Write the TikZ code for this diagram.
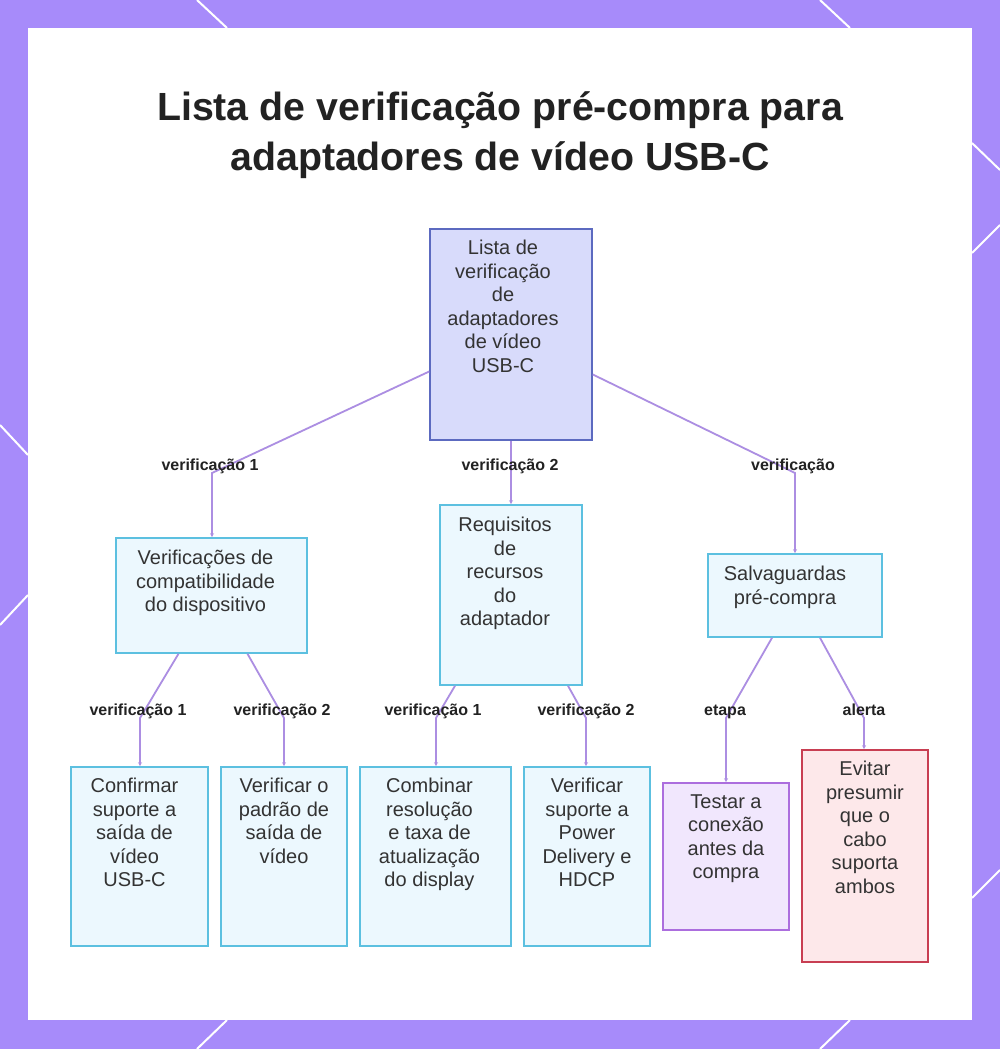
\documentclass[tikz,border=0pt]{standalone}
\usepackage{fontspec}
\setmainfont{Liberation Sans}
\usetikzlibrary{arrows.meta}
\definecolor{bgpurple}{RGB}{167,139,250}
\definecolor{rootfill}{RGB}{216,219,251}
\definecolor{rootdraw}{RGB}{92,106,192}
\definecolor{cyanfill}{RGB}{236,248,254}
\definecolor{cyandraw}{RGB}{92,192,224}
\definecolor{lavfill}{RGB}{241,231,253}
\definecolor{lavdraw}{RGB}{172,110,222}
\definecolor{redfill}{RGB}{253,232,234}
\definecolor{reddraw}{RGB}{200,62,82}
\definecolor{connc}{RGB}{172,142,226}
\definecolor{txt}{RGB}{51,51,51}
\definecolor{ttl}{RGB}{34,34,34}
\tikzset{
  boxbase/.style={rectangle, line width=1.6pt, inner sep=0pt},
  rootbox/.style={boxbase, draw=rootdraw, fill=rootfill},
  cbox/.style={boxbase, draw=cyandraw, fill=cyanfill},
  lbox/.style={boxbase, draw=lavdraw, fill=lavfill},
  rbox/.style={boxbase, draw=reddraw, fill=redfill},
  btext/.style={anchor=north, align=center, inner sep=0pt, text=txt,
    font=\fontsize{20}{23.5}\selectfont},
  lbl/.style={anchor=base, inner sep=0pt, text=ttl, font=\bfseries\fontsize{16}{18}\selectfont},
  conn/.style={draw=connc, line width=1.8pt, -{Stealth[length=4pt,width=4pt]}},
  ttlstyle/.style={anchor=base, inner sep=0pt, text=ttl, font=\bfseries\fontsize{39.3}{50}\selectfont},
  border/.style={draw=white, line width=2pt}
}
\begin{document}
\begin{tikzpicture}[x=1pt,y=-1pt]
\useasboundingbox (0,0) rectangle (1000,1049);
\fill[bgpurple] (0,0) rectangle (1000,1049);
% border diagonals
\draw[border] (197,0) -- (227,28);
\draw[border] (820,0) -- (850,28);
\draw[border] (0,425) -- (28,455);
\draw[border] (28,595) -- (0,625);
\draw[border] (972,143) -- (1000,170);
\draw[border] (972,253) -- (1000,225);
\draw[border] (972,898) -- (1000,870);
\draw[border] (227,1020) -- (197,1049);
\draw[border] (850,1020) -- (820,1049);
\fill[white] (28,28) rectangle (972,1020);

% title
\node[ttlstyle] (title1) at (500,120) {Lista de verificação pré-compra para};
\node[ttlstyle] (title2) at (500,170) {adaptadores de vídeo USB-C};

% boxes
\node[rootbox, minimum width=162, minimum height=211] (R) at (511,334.5) {};
\node[cbox, minimum width=191, minimum height=115] (A) at (211.5,595.5) {};
\node[cbox, minimum width=142, minimum height=180] (B) at (511,595) {};
\node[cbox, minimum width=174, minimum height=83] (C) at (795,595.5) {};
\node[cbox, minimum width=137, minimum height=179] (L1) at (139.5,856.5) {};
\node[cbox, minimum width=126, minimum height=179] (L2) at (284,856.5) {};
\node[cbox, minimum width=151, minimum height=179] (L3) at (435.5,856.5) {};
\node[cbox, minimum width=126, minimum height=179] (L4) at (587,856.5) {};
\node[lbox, minimum width=126, minimum height=147] (L5) at (726,856.5) {};
\node[rbox, minimum width=126, minimum height=212] (L6) at (865,856) {};

% texts
\node[btext] (Rt) at ([xshift=-8,yshift=-12]R.north) {Lista de\\verificação\\de\\adaptadores\\de vídeo\\USB-C};
\node[btext] (At) at ([xshift=-6,yshift=-13]A.north) {Verificações de\\compatibilidade\\do dispositivo};
\node[btext] (Bt) at ([xshift=-6,yshift=-13]B.north) {Requisitos\\de\\recursos\\do\\adaptador};
\node[btext] (Ct) at ([xshift=-10,yshift=-13]C.north) {Salvaguardas\\pré-compra};
\node[btext] (L1t) at ([xshift=-5,yshift=-12]L1.north) {Confirmar\\suporte a\\saída de\\vídeo\\USB-C};
\node[btext] (L2t) at ([yshift=-12]L2.north) {Verificar o\\padrão de\\saída de\\vídeo};
\node[btext] (L3t) at ([xshift=-6,yshift=-12]L3.north) {Combinar\\resolução\\e taxa de\\atualização\\do display};
\node[btext] (L4t) at ([yshift=-12]L4.north) {Verificar\\suporte a\\Power\\Delivery e\\HDCP};
\node[btext] (L5t) at ([yshift=-12]L5.north) {Testar a\\conexão\\antes da\\compra};
\node[btext] (L6t) at ([yshift=-12]L6.north) {Evitar\\presumir\\que o\\cabo\\suporta\\ambos};

% bend coordinates
\coordinate (bA) at (212,473);
\coordinate (bB) at (511,473);
\coordinate (bC) at (795,473);
\coordinate (b1) at (140,718);
\coordinate (b2) at (284,718);
\coordinate (b3) at (436,718);
\coordinate (b4) at (586,718);
\coordinate (b5) at (726,718);
\coordinate (b6) at (864,718);

% connectors
\draw[conn] ([yshift=-37]R.west) -- (bA) -- (bA |- A.north);
\draw[conn] (R.south) -- (B.north);
\draw[conn] ([yshift=-40]R.east) -- (bC) -- (bC |- C.north);
\draw[conn] ([xshift=-33]A.south) -- (b1) -- (b1 |- L1.north);
\draw[conn] ([xshift=36]A.south) -- (b2) -- (b2 |- L2.north);
\draw[conn] ([xshift=-56]B.south) -- (b3) -- (b3 |- L3.north);
\draw[conn] ([xshift=57]B.south) -- (b4) -- (b4 |- L4.north);
\draw[conn] ([xshift=-23]C.south) -- (b5) -- (b5 |- L5.north);
\draw[conn] ([xshift=25]C.south) -- (b6) -- (b6 |- L6.north);

% labels
\node[lbl] (lA) at (210,470) {verificação 1};
\node[lbl] (lB) at (510,470) {verificação 2};
\node[lbl] (lC) at (793,470) {verificação};
\node[lbl] (l1) at (138,715) {verificação 1};
\node[lbl] (l2) at (282,715) {verificação 2};
\node[lbl] (l3) at (433,715) {verificação 1};
\node[lbl] (l4) at (586,715) {verificação 2};
\node[lbl] (l5) at (725,715) {etapa};
\node[lbl] (l6) at (864,715) {alerta};
\end{tikzpicture}
\end{document}
